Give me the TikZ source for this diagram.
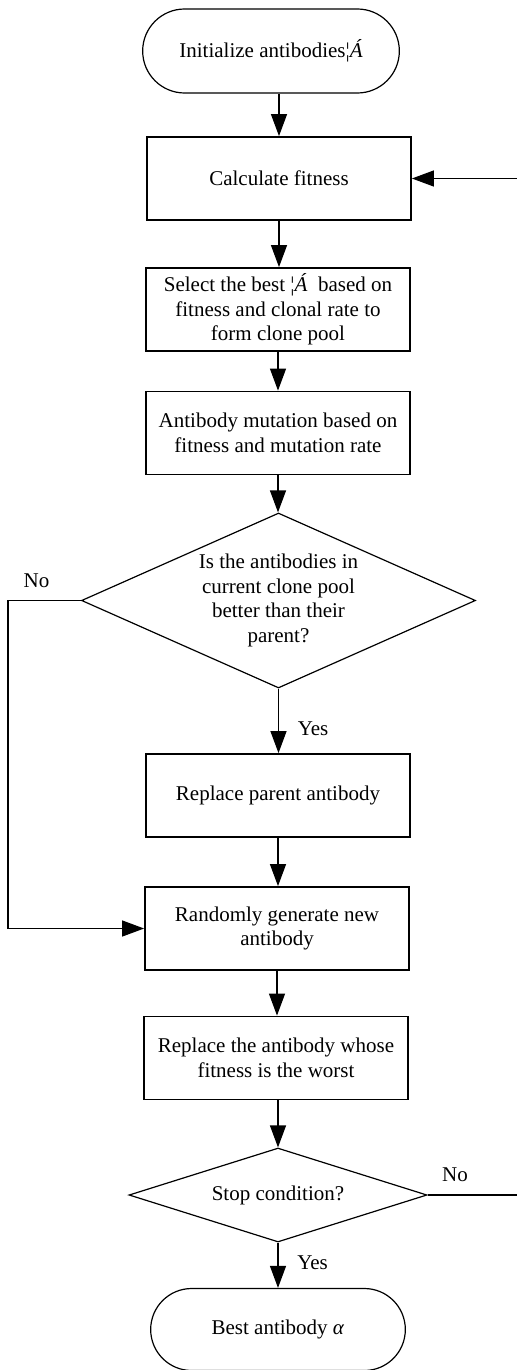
\documentclass[tikz,border=0pt]{standalone}
\usepackage{fontspec}
\setmainfont{Liberation Serif}
\usepackage{tikz}
\usetikzlibrary{shapes.geometric, shapes.misc, arrows.meta}
\tikzset{term/.style={draw, line width=.6pt, rounded rectangle, minimum width=135pt, minimum height=42pt, align=center}}
\tikzset{proc/.style={draw, line width=.9pt, rectangle, minimum width=132pt, minimum height=41.5pt, inner sep=2pt, align=center}}
\tikzset{decide/.style={draw, line width=.6pt, diamond, inner sep=0pt, align=center}}
\tikzset{flow/.style={line width=.6pt, -{Triangle[length=11pt,width=8pt]}}}
\newcommand{\garb}{¦\textit{Á}}

\begin{document}
\begin{tikzpicture}[x=0.5pt, y=-0.5pt, font=\fontsize{10.5}{12.2}\selectfont]
\useasboundingbox (0,0) rectangle (516,1370);
\node[term] (init) at (271,51) {Initialize antibodies\garb};
\node[proc] (fit) at (279,178.5) {Calculate fitness};
\node[proc] (sel) at (278,309.5) {Select the best \garb\ \ based on\\fitness and clonal rate to\\form clone pool};
\node[proc] (mut) at (278,433) {Antibody mutation based on\\fitness and mutation rate};
\node[decide, aspect=2.25, minimum width=197pt, minimum height=87.5pt] (better) at (278.5,600.5) {Is the antibodies in\\current clone pool\\better than their\\parent?};
\node[proc] (rep) at (278,795.5) {Replace parent antibody};
\node[proc] (rnd) at (277,928.5) {Randomly generate new\\antibody};
\node[proc] (worst) at (276,1058) {Replace the antibody whose\\fitness is the worst};
\node[decide, aspect=3.17, minimum width=149pt, minimum height=47pt] (stop) at (278,1195) {Stop condition?};
\node[term, minimum width=134pt, minimum height=41pt] (best) at (278,1329.5) {Best antibody \textit{α}};
\coordinate (lft) at (8,600.5);
\coordinate (rgt) at (519,1195);
\draw[flow] (init.south -| fit) -- (fit.north);
\draw[flow] (fit.south) -- (fit.south |- sel.north);
\draw[flow] (sel.south) -- (sel.south |- mut.north);
\draw[flow] (mut.south) -- (mut.south |- better.north);
\draw[flow] (better.south) -- node[right=6pt, pos=.62] (yes1) {Yes} (better.south |- rep.north);
\draw[flow] (rep.south) -- (rep.south |- rnd.north);
\draw[flow] (rnd.south) -- (rnd.south |- worst.north);
\draw[flow] (stop.north |- worst.south) -- (stop.north);
\draw[flow] (stop.south) -- node[right=6pt, pos=.45] (yes2) {Yes} (best.north);
\draw[flow] (better.west) -- node[above=3pt, pos=.61] (no1) {No} (lft) |- (rnd.west);
\draw[flow] (stop.east) -- node[above=3pt, pos=.3] (no2) {No} (rgt) |- (fit.east);
\end{tikzpicture}
\end{document}
